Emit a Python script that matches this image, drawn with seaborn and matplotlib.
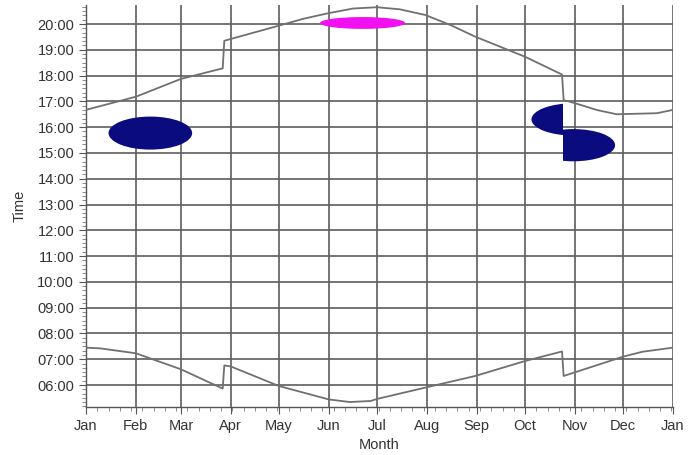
import numpy as np
import pandas as pd
import seaborn as sns
import matplotlib.pyplot as plt
from matplotlib.patches import Ellipse, Rectangle
from matplotlib.ticker import MultipleLocator, FixedLocator, FuncFormatter

# Sunrise / sunset clock times (day of year, hours), with the DST jumps
sunrise_day = [0, 9, 31, 59, 85, 86, 90, 120, 151, 164, 177, 181, 211, 242, 273, 296, 297, 334, 346, 365]
sunrise_hour = [7.45, 7.42, 7.23, 6.61, 5.86, 6.76, 6.72, 5.96, 5.44, 5.34, 5.38, 5.46, 5.90, 6.35, 6.93, 7.30, 6.35, 7.10, 7.29, 7.45]

sunset_day = [0, 31, 59, 85, 86, 119, 135, 150, 166, 181, 195, 211, 227, 242, 273, 296, 297, 304, 318, 330, 355, 365]
sunset_hour = [16.67, 17.18, 17.87, 18.28, 19.35, 19.92, 20.20, 20.41, 20.60, 20.65, 20.57, 20.35, 19.95, 19.51, 18.73, 18.04, 17.05, 16.93, 16.66, 16.50, 16.54, 16.67]

# Observation blobs (centre day, centre hour, extent in days, extent in hours)
blob_day = [40, 303, 172]
blob_hour = [15.77, 15.30, 20.04]
blob_days_wide = [52, 52, 53]
blob_hours_tall = [1.28, 1.25, 0.46]
blob_color = ["#0b0b80", "#0b0b80", "#f010f0"]
blob_dst_split = [False, True, False]
dst_end_day = 296.5

month_start = [0, 31, 59, 90, 120, 151, 181, 212, 243, 273, 304, 334, 365]
month_label = ["Jan", "Feb", "Mar", "Apr", "May", "Jun", "Jul", "Aug", "Sep", "Oct", "Nov", "Dec", "Jan"]
hour_ticks = list(range(6, 21))

sns.set_style("ticks")
plt.rcParams["font.family"] = ["Liberation Sans", "DejaVu Sans"]

fig = plt.figure(figsize=(6.99, 4.55), dpi=100)
ax = fig.add_axes([86 / 699, 48 / 455, 587 / 699, 402 / 455])

# Curves
rise = pd.DataFrame({"day": sunrise_day, "hour": sunrise_hour})
sett = pd.DataFrame({"day": sunset_day, "hour": sunset_hour})
for df in (rise, sett):
    sns.lineplot(data=df, x="day", y="hour", ax=ax, color="#707070", lw=1.3,
                 sort=False, estimator=None, zorder=3)

# Blobs
for d, h, w, t, c, split in zip(blob_day, blob_hour, blob_days_wide,
                                blob_hours_tall, blob_color, blob_dst_split):
    if split:
        # before the clocks go back the times read one hour later
        parts = [(h + 1, 0, dst_end_day), (h, dst_end_day, 366)]
    else:
        parts = [(h, 0, 366)]
    for hh, x0, x1 in parts:
        e = Ellipse((d, hh), w, t, facecolor=c, edgecolor="none", zorder=4)
        ax.add_patch(e)
        clip = Rectangle((x0, 0), x1 - x0, 30, transform=ax.transData)
        e.set_clip_path(clip)

ax.set_xlim(0, 365)
ax.set_ylim(5.147, 20.737)

ax.xaxis.set_major_locator(FixedLocator(month_start))
ax.set_xticklabels(month_label)
ax.xaxis.set_minor_locator(MultipleLocator(7))
ax.yaxis.set_major_locator(FixedLocator(hour_ticks))
ax.yaxis.set_major_formatter(FuncFormatter(lambda v, p: "%02d:00" % int(round(v))))
ax.yaxis.set_minor_locator(MultipleLocator(1 / 6))

ax.grid(True, which="major", color="#5e5e5e", lw=1.2, zorder=1)
ax.set_axisbelow(True)
sns.despine(ax=ax)
for s in ("left", "bottom"):
    ax.spines[s].set_color("#555555")
    ax.spines[s].set_linewidth(1.0)

ax.tick_params(which="major", length=5, color="#555555", labelsize=10.5,
               labelcolor="#333333")
ax.tick_params(which="minor", length=3, color="#777777")

ax.set_xlabel("Month", fontsize=10.5, color="#333333", labelpad=4)
ax.set_ylabel("Time", fontsize=10.5, color="#333333", labelpad=8)

fig.savefig("out.png", dpi=100)
